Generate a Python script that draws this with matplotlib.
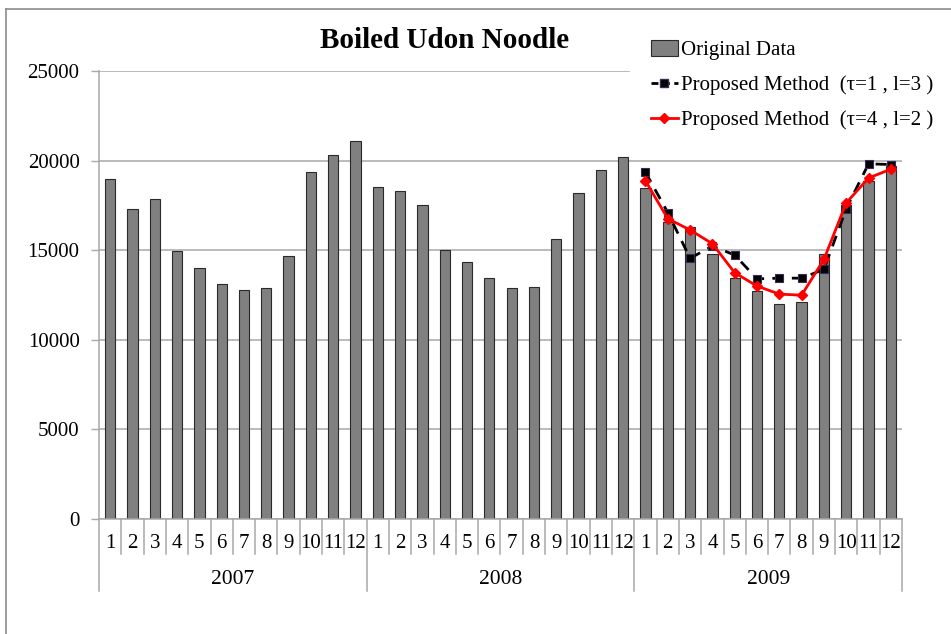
import matplotlib
matplotlib.use("Agg")
import matplotlib.pyplot as plt
from matplotlib.lines import Line2D
from matplotlib.patches import Patch
from matplotlib.transforms import blended_transform_factory

# ---- data ----
years = ["2007", "2008", "2009"]
months = [str(m) for m in range(1, 13)]

original_2007 = [19000, 17300, 17850, 14950, 14000, 13100, 12800, 12900, 14700, 19350, 20300, 21100]
original_2008 = [18500, 18300, 17550, 15000, 14350, 13450, 12900, 12950, 15600, 18200, 19450, 20200]
original_2009 = [18450, 16600, 16300, 14800, 13450, 12700, 12000, 12100, 14800, 17550, 18850, 19700]
original = original_2007 + original_2008 + original_2009

method_t1_l3 = [19350, 17100, 14550, 15230, 14730, 13400, 13440, 13440, 13930, 17320, 19820, 19780]
method_t4_l2 = [18870, 16760, 16130, 15360, 13740, 13000, 12550, 12490, 14490, 17640, 19030, 19520]

title = "Boiled Udon Noodle"
label_orig = "Original Data"
label_m1 = "Proposed Method  (\u03c4=1 , l=3 )"
label_m2 = "Proposed Method  (\u03c4=4 , l=2 )"

# ---- style ----
plt.rcParams["font.family"] = ["Liberation Serif", "DejaVu Serif"]
W, H = 951, 634
fig = plt.figure(figsize=(W / 100, H / 100), dpi=100)

ax_left, ax_right, ax_top, ax_bottom = 99, 902, 71, 519
ax = fig.add_axes([ax_left / W, 1 - ax_bottom / H,
                   (ax_right - ax_left) / W, (ax_bottom - ax_top) / H])
ax_h = ax_bottom - ax_top

grid_c = "#a8a8a8"
n = len(original)
xs = list(range(n))

ax.bar(xs, original, width=0.46, color="#808080", edgecolor="#2a2a2a",
       linewidth=0.8, zorder=2)

x09 = xs[24:36]
ax.plot(x09, method_t1_l3, color="black", linestyle=(0, (4, 3)), lw=2.0,
        marker="s", markersize=6, markerfacecolor="black",
        markeredgecolor="#3a2a5a", markeredgewidth=0.8, zorder=3)
ax.plot(x09, method_t4_l2, color="#ff0000", linestyle="-", lw=2.0,
        marker="D", markersize=5.5, markerfacecolor="#ff0000",
        markeredgecolor="#ff0000", zorder=4)

ax.set_xlim(-0.5, n - 0.5)
ax.set_ylim(0, 25000)
ax.set_yticks(range(0, 25001, 5000))
ax.set_yticklabels([str(v) for v in range(0, 25001, 5000)], fontsize=15)
ax.tick_params(axis="y", length=6, width=1, color=grid_c, pad=8)
ax.set_xticks([])
ax.yaxis.grid(True, color=grid_c, lw=1.1, zorder=0)
ax.set_axisbelow(True)
for s in ("top", "right"):
    ax.spines[s].set_visible(False)
for s in ("left", "bottom"):
    ax.spines[s].set_color(grid_c)
    ax.spines[s].set_linewidth(1.1)

# ---- two-level category axis ----
trans = blended_transform_factory(ax.transData, ax.transAxes)
month_depth = -(554 - ax_bottom) / ax_h
year_depth = -(591 - ax_bottom) / ax_h
for k in range(n + 1):
    depth = year_depth if k % 12 == 0 else month_depth
    ax.add_line(Line2D([k - 0.5, k - 0.5], [0, depth], transform=trans,
                       color=grid_c, lw=1.1, clip_on=False))
for i in range(n):
    ax.text(i, -(543 - ax_bottom) / ax_h, months[i % 12], transform=trans,
            ha="center", va="center", fontsize=15)
for j, yr in enumerate(years):
    ax.text(12 * j + 5.5, -(579 - ax_bottom) / ax_h, yr, transform=trans,
            ha="center", va="center", fontsize=15.5)

# ---- title ----
fig.text(445 / W, 1 - 40 / H, title, ha="center", va="center",
         fontsize=21, fontweight="bold")

# ---- legend ----
handles = [
    Patch(facecolor="#808080", edgecolor="#2a2a2a", linewidth=0.8),
    Line2D([], [], color="black", linestyle=(0, (2.5, 1.6)), lw=2.0, marker="s",
           markersize=5.5, markerfacecolor="black", markeredgecolor="#3a2a5a"),
    Line2D([], [], color="#ff0000", lw=2.0, marker="D", markersize=5,
           markerfacecolor="#ff0000", markeredgecolor="#ff0000"),
]
fig.legend(handles, [label_orig, label_m1, label_m2], loc="upper left",
           bbox_to_anchor=(630 / W, 1 - 19 / H), frameon=True,
           facecolor="white", edgecolor="white", framealpha=1,
           fontsize=15, handlelength=1.3, handleheight=0.8,
           handletextpad=0.15, labelspacing=0.72, borderpad=1.0,
           borderaxespad=0, fancybox=False)

# ---- outer chart frame ----
frame_c = "#8c8c8c"
fig.add_artist(Line2D([6 / W, 6 / W], [0, 1 - 9 / H], transform=fig.transFigure,
                      color=frame_c, lw=1.2))
fig.add_artist(Line2D([6 / W, 1], [1 - 9 / H, 1 - 9 / H], transform=fig.transFigure,
                      color=frame_c, lw=1.2))

fig.savefig("out.png", dpi=100, facecolor="white")
